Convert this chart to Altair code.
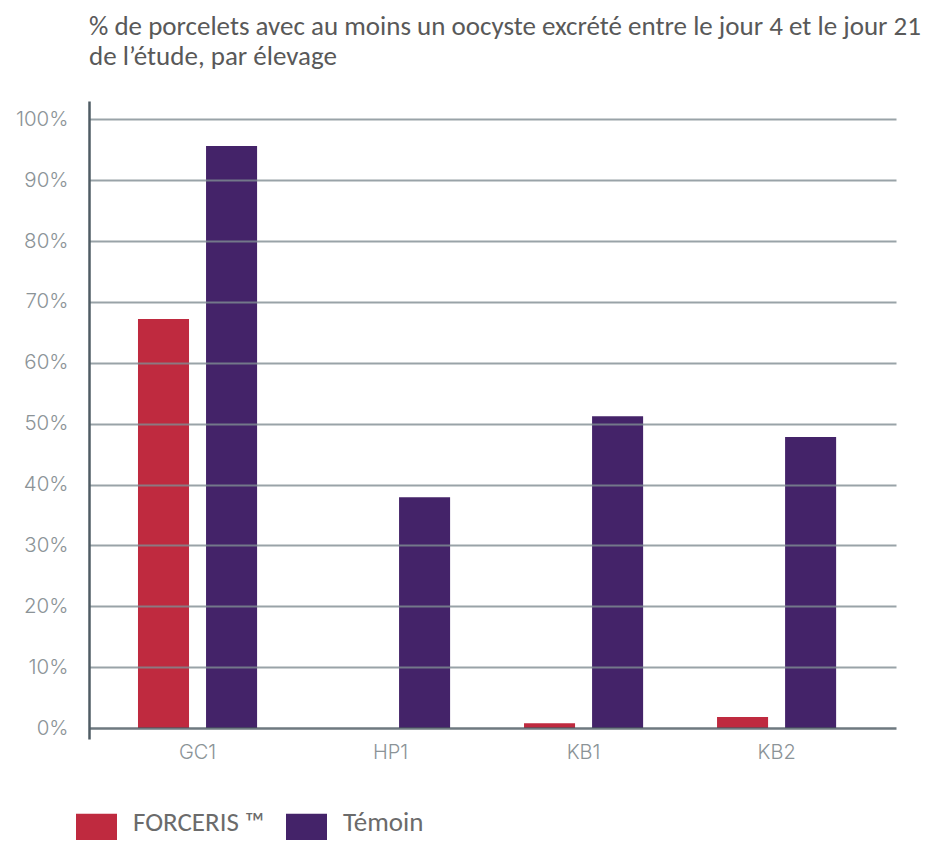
import altair as alt
import pandas as pd

sites = ["GC1", "HP1", "KB1", "KB2"]
forceris = [67.2, 0.0, 0.8, 1.8]
temoin = [95.6, 37.9, 51.2, 47.8]
series = ["FORCERIS ™", "Témoin"]
colors = ["#bf2a3f", "#442369"]
y_ticks = [0, 10, 20, 30, 40, 50, 60, 70, 80, 90, 100]
title_lines = [
    "% de porcelets avec au moins un oocyste excrété entre le jour 4 et le jour 21",
    "de l’étude, par élevage",
]

rows = []
for s, f, t in zip(sites, forceris, temoin):
    rows.append({"site": s, "groupe": series[0], "pct": f})
    rows.append({"site": s, "groupe": series[1], "pct": t})
df = pd.DataFrame(rows)

label_color = "#8b9397"
text_font = "Carlito, Lato, Open Sans"

bars = alt.Chart(df).mark_bar().encode(
    x=alt.X(
        "site:N",
        sort=sites,
        scale=alt.Scale(paddingInner=0.383, paddingOuter=0.282, align=0.45),
        axis=alt.Axis(
            title=None, labelAngle=0, domain=False, ticks=False,
            labelPadding=3, labelFont="Inter", labelFontSize=20,
            labelFontWeight=300, labelColor=label_color,
        ),
    ),
    xOffset=alt.XOffset("groupe:N", sort=series, scale=alt.Scale(paddingInner=0.25)),
    y=alt.Y(
        "pct:Q",
        scale=alt.Scale(domain=[-1.8, 103], nice=False, zero=False),
        axis=alt.Axis(
            values=y_ticks, title=None, labelExpr="datum.value + '%'",
            ticks=False, labelPadding=21, labelFont="Inter", labelFontSize=20.5,
            labelFontWeight=300, labelColor=label_color,
            domainColor="#4f5c64", domainWidth=2.5,
            grid=True,
            gridColor={"condition": {"test": "datum.value === 0", "value": "#4a5760"}, "value": "#7f8c92"},
            gridWidth={"condition": {"test": "datum.value === 0", "value": 2.5}, "value": 2},
            gridOpacity=0.8,
            zindex=1,
        ),
    ),
    y2=alt.Y2Datum(0),
    color=alt.Color(
        "groupe:N",
        sort=series,
        scale=alt.Scale(domain=series, range=colors),
        legend=alt.Legend(
            title=None, orient="none", legendX=-13, legendY=701,
            direction="horizontal",
            symbolType="M-1,-0.45H1V1.1H-1Z", symbolSize=1681,
            symbolStrokeWidth=0, symbolOpacity=1, labelFont=text_font,
            labelFontSize=27, labelColor="#6b6b6b", labelOffset=16,
            columnPadding=21, padding=0,
        ),
    ),
)

chart = bars.properties(
    width=807,
    height=638,
    title=alt.Title(
        title_lines, anchor="start", frame="group", font=text_font,
        fontSize=27, fontWeight="normal", color="#595959", offset=30,
        lineHeight=30,
    ),
    autosize=alt.AutoSizeParams(type="none"),
    padding={"left": 81, "top": 93, "right": 36, "bottom": 101},
    background="white",
).configure_view(stroke=None)

chart.save("out.html", embed_options={"renderer": "svg", "actions": False})
